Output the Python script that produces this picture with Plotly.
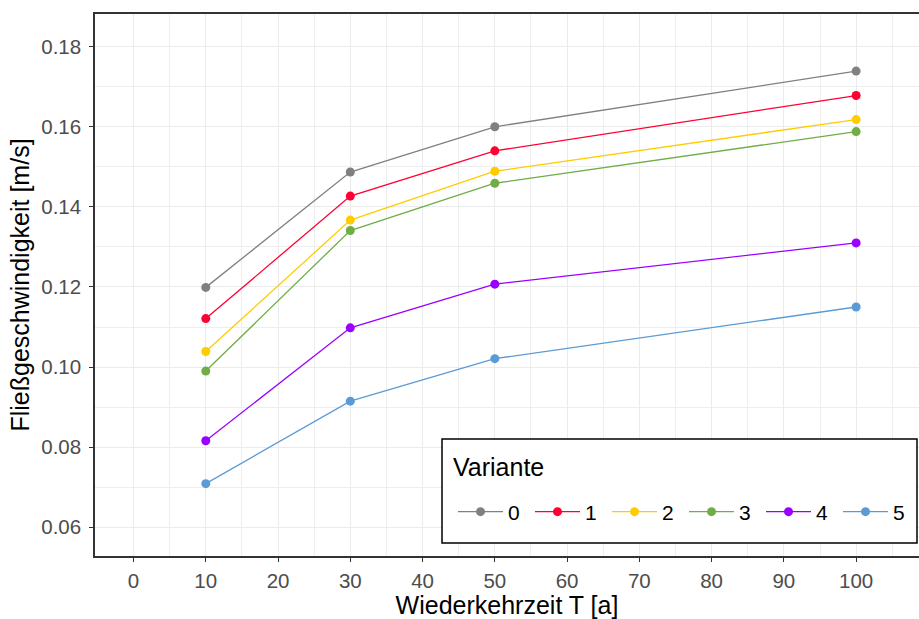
import plotly.graph_objects as go

T = [10, 30, 50, 100]
variants = ["0", "1", "2", "3", "4", "5"]
v0 = [0.1199, 0.1487, 0.1600, 0.1739]
v1 = [0.1121, 0.1427, 0.1540, 0.1678]
v2 = [0.1039, 0.1367, 0.1489, 0.1618]
v3 = [0.0990, 0.1341, 0.1459, 0.1588]
v4 = [0.0816, 0.1098, 0.1207, 0.1310]
v5 = [0.0709, 0.0915, 0.1021, 0.1150]
values = [v0, v1, v2, v3, v4, v5]
colors = ["#808080", "#FF0033", "#FFCC00", "#70AD47", "#9A00FF", "#5B9BD5"]
x_ticks = [0, 10, 20, 30, 40, 50, 60, 70, 80, 90, 100]
y_ticks = [0.06, 0.08, 0.10, 0.12, 0.14, 0.16, 0.18]
legend_title = "Variante"

# plot panel in page pixels: x 95..919, y 14..556
PX0, PX1, PY0, PY1 = 95, 919, 14, 556
def px(x):
    return (x - PX0) / (PX1 - PX0)
def py(y):
    return (PY1 - y) / (PY1 - PY0)

fig = go.Figure()
for name, vals, col in zip(variants, values, colors):
    fig.add_trace(go.Scatter(
        x=T, y=vals, name=name, mode="lines+markers",
        line=dict(color=col, width=1.3),
        marker=dict(color=col, size=9),
    ))

font_family = "Liberation Sans, Arial, sans-serif"
fig.update_layout(
    template="none",
    width=919, height=619,
    margin=dict(l=95, r=0, t=14, b=63, pad=0),
    paper_bgcolor="white", plot_bgcolor="white",
    font=dict(family=font_family, color="black"),
    showlegend=True,
    legend=dict(
        orientation="h",
        x=px(453), y=py(512), xanchor="left", yanchor="middle",
        bgcolor="rgba(0,0,0,0)", borderwidth=0,
        font=dict(size=21),
        itemwidth=45,
        entrywidth=17, entrywidthmode="pixels",
    ),
    shapes=[dict(
        type="rect", xref="paper", yref="paper",
        x0=px(442), x1=px(917), y0=py(543), y1=py(439),
        line=dict(color="black", width=1.5), fillcolor="white", layer="above",
    )],
    annotations=[dict(
        text=legend_title, xref="paper", yref="paper",
        x=px(451), y=py(467), xanchor="left", yanchor="middle",
        showarrow=False, font=dict(size=25, color="black"),
    )],
)
fig.update_xaxes(
    automargin=False,
    range=[-5.33, 108.7],
    tickvals=x_ticks, ticktext=[str(t) for t in x_ticks],
    ticks="outside", ticklen=4, tickcolor="#333333", tickwidth=1,
    tickfont=dict(size=20.5, color="#4D4D4D"),
    ticklabelstandoff=2,
    showline=True, linecolor="#333333", linewidth=1.5, mirror=True,
    showgrid=True, gridcolor="#EBEBEB", gridwidth=1.3,
    minor=dict(tickvals=[5 + 10 * i for i in range(11)], showgrid=True,
               gridcolor="#EEEEEE", gridwidth=1, ticks=""),
    zeroline=False,
    title=dict(text="Wiederkehrzeit T [a]", font=dict(size=25), standoff=10),
)
fig.update_yaxes(
    automargin=False,
    range=[0.05283, 0.18816],
    tickvals=y_ticks, ticktext=["%.2f" % t for t in y_ticks],
    ticks="outside", ticklen=4, tickcolor="#333333", tickwidth=1,
    tickfont=dict(size=20.5, color="#4D4D4D"),
    ticklabelstandoff=4,
    showline=True, linecolor="#333333", linewidth=1.5, mirror=False,
    showgrid=True, gridcolor="#EBEBEB", gridwidth=1.3,
    minor=dict(tickvals=[0.07 + 0.02 * i for i in range(6)], showgrid=True,
               gridcolor="#EEEEEE", gridwidth=1, ticks=""),
    zeroline=False,
    title=dict(text="Fließgeschwindigkeit [m/s]", font=dict(size=25), standoff=4),
)

fig.write_html("out.html", config={"displayModeBar": False},
               post_script="document.body.style.margin='0';")
